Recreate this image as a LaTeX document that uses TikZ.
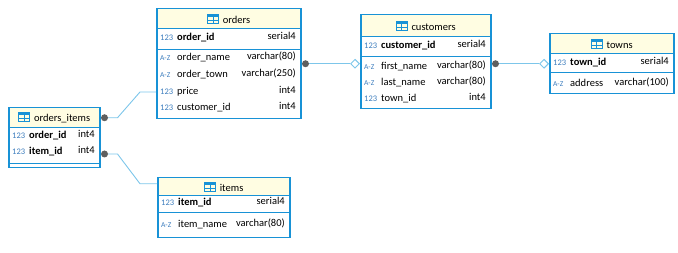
\documentclass[tikz,border=0pt]{standalone}
\usepackage{fontspec}
\setmainfont{Carlito}
\usepackage{tikz}
\usetikzlibrary{calc,shapes.geometric,positioning}
\definecolor{erblue}{RGB}{24,146,214}
\definecolor{erlightblue}{RGB}{125,198,234}
\definecolor{eryellow}{RGB}{255,253,226}
\definecolor{erkey}{RGB}{60,125,190}
\definecolor{erdot}{RGB}{95,95,95}
\tikzstyle{tblbody} = [rectangle, draw=erblue, line width=1.5pt, fill=white, inner sep=0pt, anchor=north west]
\tikzstyle{tblhead} = [rectangle, draw=erblue, line width=1.5pt, fill=eryellow, inner sep=0pt, anchor=north, font=\fontsize{10.5}{12}\selectfont]
\tikzstyle{iconlbl} = [anchor=west, inner sep=0pt, text height=7pt, text depth=2pt]
\tikzstyle{colname} = [anchor=west, inner sep=0pt, text height=7pt, text depth=2pt, font=\fontsize{10.5}{12}\selectfont]
\tikzstyle{coltype} = [anchor=east, inner sep=0pt, text height=7pt, text depth=2pt, yshift=1pt, font=\fontsize{10.5}{12}\selectfont]
\tikzstyle{sep} = [draw=erblue, line width=0.9pt]
\tikzstyle{link} = [draw=erlightblue, line width=0.9pt]
\tikzstyle{fkdot} = [circle, fill=erdot, minimum size=7pt, inner sep=0pt]
\tikzstyle{pkdiamond} = [diamond, draw=erlightblue, fill=white, line width=0.9pt, minimum size=9pt, inner sep=0pt]
% little table glyph for the headers
\newcommand{\tblicon}{\tikz[x=1pt,y=1pt,baseline=0pt]{%
  \draw[erblue,line width=0.7pt] (0,0) rectangle (11,9);
  \fill[erblue] (0,6.6) rectangle (11,9);
  \draw[erblue,line width=0.6pt] (0,3.3) -- (11,3.3) (5.5,0) -- (5.5,6.6);}\hspace{4pt}}
\newcommand{\numicon}{{\color{erkey}\fontsize{8.5}{10}\selectfont 123}}
\newcommand{\txticon}{{\color{erkey}\fontsize{7.5}{9}\selectfont A-Z}}
% one column line: name, left x, right x, y, icon, column, type
\newcommand{\colrow}[7]{%
  \node (#1-icon) [iconlbl] at (#2+4,#4) {#5};
  \node (#1) [colname] at (#2+21,#4) {#6};
  \node (#1-type) [coltype] at (#3-4,#4) {#7};}

\begin{document}
\begin{tikzpicture}[x=1pt,y=-1pt]
\useasboundingbox (0,0) rectangle (678,253);

% orders
\node (orders) [tblbody, minimum width=144pt, minimum height=110pt] at (156,8) {};
\node (orders-head) [tblhead, minimum width=144pt, minimum height=20pt] at (orders.north) {\tblicon orders};
\colrow{orders-id}{156}{300}{38}{\numicon}{\bfseries order\_id}{serial4}
\draw[sep] (orders.west |- 0,49) -- (orders.east |- 0,49);
\colrow{orders-name}{156}{300}{58}{\txticon}{order\_name}{varchar(80)}
\colrow{orders-town}{156}{300}{75}{\txticon}{order\_town}{varchar(250)}
\colrow{orders-price}{156}{300}{92}{\numicon}{price}{int4}
\colrow{orders-cust}{156}{300}{108}{\numicon}{customer\_id}{int4}

% customers
\node (customers) [tblbody, minimum width=130pt, minimum height=94pt] at (360,14) {};
\node (customers-head) [tblhead, minimum width=130pt, minimum height=22pt] at (customers.north) {\tblicon customers};
\colrow{customers-id}{360}{490}{46}{\numicon}{\bfseries customer\_id}{serial4}
\draw[sep] (customers.west |- 0,56) -- (customers.east |- 0,56);
\colrow{customers-first}{360}{490}{67}{\txticon}{first\_name}{varchar(80)}
\colrow{customers-last}{360}{490}{83}{\txticon}{last\_name}{varchar(80)}
\colrow{customers-town}{360}{490}{99}{\numicon}{town\_id}{int4}

% towns
\node (towns) [tblbody, minimum width=124pt, minimum height=60pt] at (549,33) {};
\node (towns-head) [tblhead, minimum width=124pt, minimum height=20pt] at (towns.north) {\tblicon towns};
\colrow{towns-id}{549}{673}{63}{\numicon}{\bfseries town\_id}{serial4}
\draw[sep] (towns.west |- 0,72) -- (towns.east |- 0,72);
\colrow{towns-addr}{549}{673}{84}{\txticon}{address}{varchar(100)}

% orders_items
\node (oi) [tblbody, minimum width=91pt, minimum height=60pt] at (8,107) {};
\node (oi-head) [tblhead, minimum width=91pt, minimum height=20pt] at (oi.north) {\tblicon orders\_items};
\colrow{oi-order}{8}{99}{136}{\numicon}{\bfseries order\_id}{int4}
\colrow{oi-item}{8}{99}{152}{\numicon}{\bfseries item\_id}{int4}
\draw[sep] (oi.west |- 0,163) -- (oi.east |- 0,163);

% items
\node (items) [tblbody, minimum width=132pt, minimum height=60pt] at (157,177) {};
\node (items-head) [tblhead, minimum width=132pt, minimum height=18pt] at (items.north) {\tblicon items};
\colrow{items-id}{157}{289}{203}{\numicon}{\bfseries item\_id}{serial4}
\draw[sep] (items.west |- 0,212) -- (items.east |- 0,212);
\colrow{items-name}{157}{289}{225}{\txticon}{item\_name}{varchar(80)}

% relations
\node (fk1) [fkdot] at ($(orders.east)+(4,0)$) {};
\node (pk1) [pkdiamond, anchor=east] at (orders.east -| customers.west) {};
\draw[link] (fk1) -- (pk1);

\node (fk2) [fkdot] at ($(towns.west -| customers.east)+(4,0)$) {};
\node (pk2) [pkdiamond, anchor=east] at (towns.west) {};
\draw[link] (fk2) -- (pk2);

\coordinate (oi-in) at (orders.west |- orders-price);
\node (fk3) [fkdot] at ($(oi-head.east)+(4,0)$) {};
\draw[link] (fk3) -- ++(13,0) -- ($(oi-in)+(-16,0)$) -- (oi-in);

\coordinate (items-in) at ($(items-head.west)+(0,-3)$);
\node (fk4) [fkdot] at ($(oi.east |- oi-item)+(4,2)$) {};
\draw[link] (fk4) -- ++(13,0) -- ($(items-in)+(-17,0)$) -- (items-in);
\end{tikzpicture}
\end{document}
